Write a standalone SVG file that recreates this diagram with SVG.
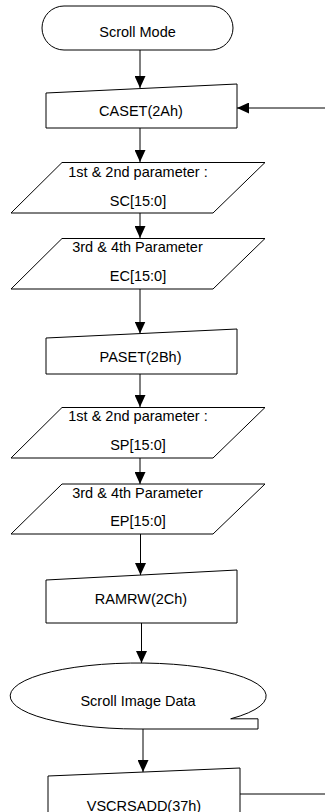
<svg xmlns="http://www.w3.org/2000/svg" width="325" height="812" viewBox="0 0 325 812">
<style>
.s{fill:#fff;stroke:#000;stroke-width:1}
.t{font-family:"Liberation Sans",Arial,sans-serif;font-size:14.5px;fill:#000;text-anchor:middle}
.c{fill:none;stroke:#000;stroke-width:1}
.a{marker-end:url(#ah)}
</style>
<defs>
<marker id="ah" viewBox="0 0 12 11" refX="12" refY="5.5" markerWidth="12" markerHeight="11" markerUnits="userSpaceOnUse" orient="auto">
<path d="M0,0 L12,5.5 L0,11 Z" fill="#000"/>
</marker>
</defs>
<rect width="325" height="812" fill="#fff"/>
<g id="connectors">
<path class="c a" d="M140,50 V88"/>
<path class="c a" d="M140,128 V162"/>
<path class="c a" d="M140,213 V238"/>
<path class="c a" d="M140,289 V333.5"/>
<path class="c a" d="M140,374 V407"/>
<path class="c a" d="M140,458 V484"/>
<path class="c a" d="M140.5,534 V575"/>
<path class="c a" d="M141.5,623 V663"/>
<path class="c a" d="M143,729 V772"/>
<path class="c" d="M240,794 H325"/>
<path class="c a" d="M325,108 H237"/>
</g>
<g id="scroll-mode">
<rect class="s" x="42" y="6" width="191" height="44" rx="22" ry="22"/>
<text class="t" x="137.5" y="36.5">Scroll Mode</text>
</g>
<g id="caset">
<polygon class="s" points="46,93 237,84 237,128 46,128"/>
<text class="t" x="141" y="115.5">CASET(2Ah)</text>
</g>
<g id="sc-param">
<polygon class="s" points="62,162.5 265,162.5 213,213 11,213"/>
<text class="t" x="138" y="176.5">1st &amp; 2nd parameter :</text>
<text class="t" x="138" y="205.5">SC[15:0]</text>
</g>
<g id="ec-param">
<polygon class="s" points="62,238.5 265,238.5 213,289 11,289"/>
<text class="t" x="137.5" y="252">3rd &amp; 4th Parameter</text>
<text class="t" x="138" y="281">EC[15:0]</text>
</g>
<g id="paset">
<polygon class="s" points="46,338 237,329 237,374 46,374"/>
<text class="t" x="140.5" y="361.5">PASET(2Bh)</text>
</g>
<g id="sp-param">
<polygon class="s" points="62,407.5 265,407.5 213,458 11,458"/>
<text class="t" x="138" y="421">1st &amp; 2nd parameter :</text>
<text class="t" x="138" y="450">SP[15:0]</text>
</g>
<g id="ep-param">
<polygon class="s" points="62,484 265,484 213,534 11,534"/>
<text class="t" x="137.5" y="498">3rd &amp; 4th Parameter</text>
<text class="t" x="138" y="526">EP[15:0]</text>
</g>
<g id="ramrw">
<polygon class="s" points="46,580 237,570 237,623 46,623"/>
<text class="t" x="141" y="604">RAMRW(2Ch)</text>
</g>
<g id="scroll-image-data">
<path class="s" d="M138,729 A128,33 0 1 1 230.7,718.8 L258,718.8 L258,729 Z"/>
<text class="t" x="138" y="706">Scroll Image Data</text>
</g>
<g id="vscrsadd">
<polygon class="s" points="48,776 240,768 240,830 48,830"/>
<text class="t" x="144" y="810.5">VSCRSADD(37h)</text>
</g>
</svg>
